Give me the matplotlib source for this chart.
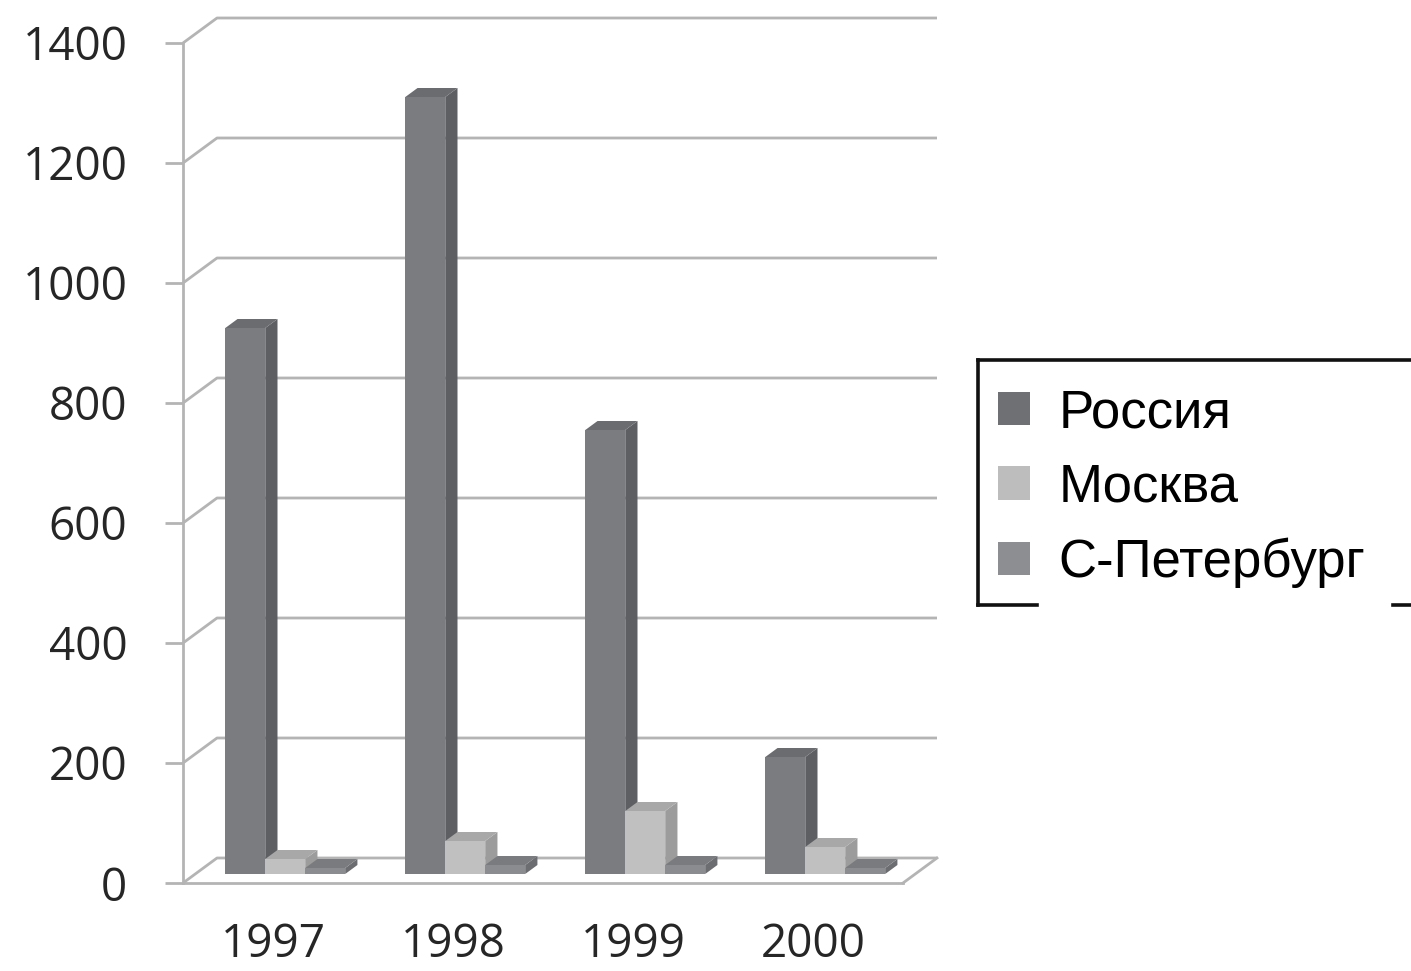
import matplotlib
matplotlib.use("Agg")
import matplotlib.pyplot as plt
from matplotlib.patches import Polygon, Patch
from matplotlib.lines import Line2D

years = ["1997", "1998", "1999", "2000"]
series = ["Россия", "Москва", "С-Петербург"]
russia = [910, 1295, 740, 195]
moscow = [25, 55, 105, 45]
spb = [10, 15, 15, 10]
values = [russia, moscow, spb]
yticks = [0, 200, 400, 600, 800, 1000, 1200, 1400]

front_cols = ["#7b7c80", "#c0c0c0", "#8b8c8f"]
side_cols = ["#5e5f63", "#9c9c9c", "#6c6d70"]
top_cols = ["#6b6c70", "#a8a8a8", "#7a7b7e"]
legend_cols = ["#6f7074", "#bdbdbd", "#8d8e91"]

W, H = 1411, 971
fig = plt.figure(figsize=(W / 100, H / 100), dpi=100)
ax = fig.add_axes([183 / W, 88 / H, 720 / W, 840 / H])
ax.set_xlim(0, 4)
ax.set_ylim(0, 1400)

xpp = 4 / 720      # x data units per pixel
ypp = 1400 / 840   # y data units per pixel
dxD = 34 * xpp
dyD = 25 * ypp
grid_c = "#b4b4b4"

# back wall gridlines + side wall diagonals
for v in yticks:
    ax.plot([0, dxD, 4 + dxD], [v, v + dyD, v + dyD], color=grid_c, lw=2,
            clip_on=False, zorder=1, solid_capstyle="butt")
# floor right edge
ax.plot([4, 4 + dxD], [0, dyD], color=grid_c, lw=2, clip_on=False, zorder=1)

# bars
w = 0.222
start = 0.5 - 1.5 * w
f0 = 0.36
fd = 0.36
for j, vals in enumerate(values):
    xs = [i + start + j * w + f0 * dxD for i in range(len(years))]
    base = f0 * dyD
    ax.bar(xs, vals, width=w, bottom=base, align="edge", color=front_cols[j],
           edgecolor="none", zorder=3 + j, clip_on=False)
    for x, v in zip(xs, vals):
        side = [(x + w, base), (x + w + fd * dxD, base + fd * dyD),
                (x + w + fd * dxD, base + v + fd * dyD), (x + w, base + v)]
        top = [(x, base + v), (x + w, base + v),
               (x + w + fd * dxD, base + v + fd * dyD), (x + fd * dxD, base + v + fd * dyD)]
        ax.add_patch(Polygon(side, closed=True, facecolor=side_cols[j],
                             edgecolor="none", zorder=3 + j, clip_on=False))
        ax.add_patch(Polygon(top, closed=True, facecolor=top_cols[j],
                             edgecolor="none", zorder=3 + j, clip_on=False))

# axes styling
for s in ["top", "right"]:
    ax.spines[s].set_visible(False)
ax.spines["left"].set_color(grid_c)
ax.spines["left"].set_linewidth(2)
ax.spines["bottom"].set_color(grid_c)
ax.spines["bottom"].set_linewidth(2)
ax.set_yticks(yticks)
ax.set_yticklabels([str(v) for v in yticks], fontsize=33, family="Open Sans",
                   color="#262626")
ax.tick_params(axis="y", length=13, width=2, color=grid_c, pad=27)
ax.set_xticks([i + 0.5 for i in range(len(years))])
ax.set_xticklabels(years, fontsize=33, family="Open Sans", color="#262626")
ax.tick_params(axis="x", length=0, pad=28)

# legend
handles = [Patch(facecolor=c, edgecolor="none") for c in legend_cols]
leg = fig.legend(handles, series, loc="upper left",
                 bbox_to_anchor=(998 / W, 1 - 388 / H),
                 bbox_transform=fig.transFigure, frameon=False,
                 prop={"family": "Liberation Sans", "size": 38},
                 handlelength=0.6, handleheight=0.6, handletextpad=0.55,
                 labelspacing=0.47, borderaxespad=0, borderpad=0)

def fl(x0, y0, x1, y1):
    fig.add_artist(Line2D([x0 / W, x1 / W], [1 - y0 / H, 1 - y1 / H],
                          transform=fig.transFigure, color="#111111", lw=2.6,
                          solid_capstyle="projecting"))

fl(978, 360, 1411, 360)
fl(978, 360, 978, 605)
fl(978, 605, 1037, 605)
fl(1393, 605, 1411, 605)

fig.savefig("out.png", dpi=100, facecolor="white")
